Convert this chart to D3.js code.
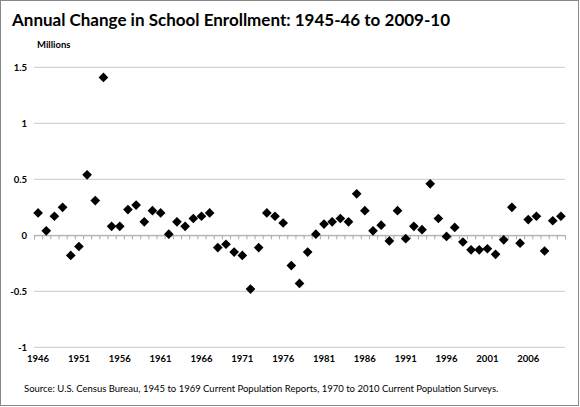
<!DOCTYPE html>
<html><head><meta charset="utf-8">
<script src="https://cdn.jsdelivr.net/npm/d3@7"></script>
<style>body{margin:0;background:#fff;font-family:Lato,"Open Sans",sans-serif}</style>
</head><body><div id="chart"></div>
<script>
var years = d3.range(1946, 2011);
var changes = [0.20,0.04,0.17,0.25,-0.18,-0.10,0.54,0.31,1.41,0.08,
  0.08,0.23,0.27,0.12,0.22,0.20,0.01,0.12,0.08,0.15,
  0.17,0.20,-0.11,-0.08,-0.15,-0.18,-0.48,-0.11,0.20,0.17,
  0.11,-0.27,-0.43,-0.15,0.01,0.10,0.12,0.15,0.12,0.37,
  0.22,0.04,0.09,-0.05,0.22,-0.03,0.08,0.05,0.46,0.15,
  -0.01,0.07,-0.06,-0.13,-0.13,-0.12,-0.17,-0.04,0.25,-0.07,
  0.14,0.17,-0.14,0.13,0.17];
var yTicks = [-1, -0.5, 0, 0.5, 1, 1.5];
var xLabels = [1946,1951,1956,1961,1966,1971,1976,1981,1986,1991,1996,2001,2006];

var W = 580, H = 407;
var svg = d3.select('#chart').append('svg').attr('width', W).attr('height', H);
svg.append('rect').attr('x', 0.5).attr('y', 0.5).attr('width', W - 2).attr('height', H - 2)
  .attr('fill', '#fff').attr('stroke', '#888');

var x = d3.scaleLinear().domain([1945.5, 2010.5]).range([34, 565]);
var y = d3.scaleLinear().domain([-1, 1.5]).range([347.3, 67.3]);

svg.append('g').selectAll('line').data(yTicks).enter().append('line')
  .attr('x1', 34).attr('x2', 565)
  .attr('y1', d => y(d)).attr('y2', d => y(d))
  .attr('stroke', '#c8c8c8').attr('stroke-width', 1);

svg.append('g').selectAll('text').data(yTicks).enter().append('text')
  .attr('x', 27).attr('y', d => y(d) + 3.5).attr('text-anchor', 'end')
  .attr('font-size', 9.5).attr('font-weight', 'bold').text(d => d);

// zero axis with yearly ticks
var zero = svg.append('g').attr('transform', 'translate(0,' + y(0) + ')');
zero.call(d3.axisBottom(x).tickValues(d3.range(1945.5, 2011.5, 1)).tickSize(4).tickFormat(''));
zero.select('.domain').attr('stroke', '#aaa');
zero.selectAll('.tick line').attr('stroke', '#aaa');

svg.append('g').selectAll('text').data(xLabels).enter().append('text')
  .attr('x', d => x(d)).attr('y', 362).attr('text-anchor', 'middle')
  .attr('font-size', 9.5).attr('font-weight', 'bold').text(d => d);

svg.append('g').selectAll('path').data(years).enter().append('path')
  .attr('d', d3.symbol().type(d3.symbolDiamond2).size(60))
  .attr('transform', (d, i) => 'translate(' + x(d) + ',' + y(changes[i]) + ')')
  .attr('fill', '#000');

svg.append('text').attr('x', 12).attr('y', 26).attr('font-size', 17).attr('font-weight', 'bold')
  .text('Annual Change in School Enrollment: 1945-46 to 2009-10');
svg.append('text').attr('x', 37).attr('y', 48).attr('font-size', 9.5).attr('font-weight', 'bold')
  .text('Millions');
svg.append('text').attr('x', 24).attr('y', 392).attr('font-size', 9.5)
  .text('Source: U.S. Census Bureau, 1945 to 1969 Current Population Reports, 1970 to 2010 Current Population Surveys.');
</script></body></html>
